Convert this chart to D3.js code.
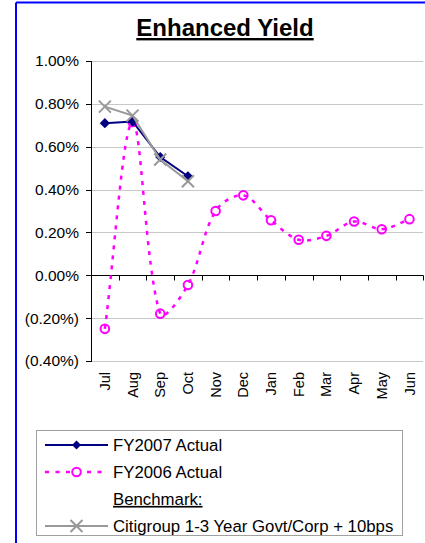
<!DOCTYPE html>
<html lang="en">
<head>
    <meta charset="UTF-8">
    <title>Enhanced Yield</title>
    <script src="https://d3js.org/d3.v7.min.js"></script>
    <style>
        body { margin: 0; background: #fff; }
        svg { display: block; font-family: "Liberation Sans", Arial, sans-serif; }
        .grid line { stroke: #c8c8c8; stroke-width: 1; shape-rendering: crispEdges; }
        .grid path { display: none; }
        .axis path, .axis line { stroke: #000; stroke-width: 1; shape-rendering: crispEdges; }
        .axis text { font-size: 15.5px; fill: #000; }
    </style>
</head>
<body>
    <svg id="chart"></svg>

    <script>
        // data
        const months = ["Jul", "Aug", "Sep", "Oct", "Nov", "Dec", "Jan", "Feb", "Mar", "Apr", "May", "Jun"];
        const fy2007 = [0.0071, 0.00718, 0.00552, 0.00462];
        const fy2006 = [-0.0025, 0.00715, -0.00179, -0.00045, 0.0030, 0.00373, 0.00257, 0.00166, 0.00184, 0.00251, 0.00215, 0.00262];
        const benchmark = [0.00787, 0.00745, 0.0054, 0.00439];
        const yTicks = [-0.004, -0.002, 0, 0.002, 0.004, 0.006, 0.008, 0.01];

        const W = 425, H = 543;
        const plot = { left: 91, right: 423.3, top: 61, bottom: 361 };

        const svg = d3.select("#chart").attr("width", W).attr("height", H);

        // blue frame (only top and left show in the crop)
        svg.append("line").attr("x1", 16).attr("y1", 2.5).attr("x2", W).attr("y2", 2.5)
            .attr("stroke", "#0000ff").attr("stroke-width", 2);
        svg.append("line").attr("x1", 16).attr("y1", 2.5).attr("x2", 16).attr("y2", H)
            .attr("stroke", "#0000ff").attr("stroke-width", 2);

        // title
        svg.append("text")
            .attr("x", 225)
            .attr("y", 36)
            .attr("text-anchor", "middle")
            .style("font-size", "24px")
            .style("font-weight", "bold")
            .style("text-decoration", "underline")
            .text("Enhanced Yield");

        const x = d3.scaleBand().domain(months).range([plot.left, plot.right]);
        const y = d3.scaleLinear().domain([-0.004, 0.01]).range([plot.bottom, plot.top]);
        const cx = m => x(m) + x.bandwidth() / 2;

        const pct = d3.format(".2%");
        const fmt = v => v < 0 ? `(${pct(-v)})` : pct(v);

        // Excel-style smoothing: bezier arms weighted by neighbouring chord lengths
        function smoothPath(pts) {
            const p = d3.path();
            const dist = (a, b) => Math.hypot(b[0] - a[0], b[1] - a[1]);
            p.moveTo(pts[0][0], pts[0][1]);
            for (let i = 0; i < pts.length - 1; i++) {
                const p0 = pts[i - 1] || pts[i], p1 = pts[i], p2 = pts[i + 1], p3 = pts[i + 2] || pts[i + 1];
                const d01 = dist(p0, p1), d12 = dist(p1, p2), d23 = dist(p2, p3);
                const f1 = d12 / (d01 + d12) / 3;
                const f2 = d12 / (d12 + d23) / 3;
                p.bezierCurveTo(
                    p1[0] + (p2[0] - p0[0]) * f1, p1[1] + (p2[1] - p0[1]) * f1,
                    p2[0] - (p3[0] - p1[0]) * f2, p2[1] - (p3[1] - p1[1]) * f2,
                    p2[0], p2[1]);
            }
            return p.toString();
        }

        // gridlines
        svg.append("g")
            .attr("class", "grid")
            .attr("transform", `translate(${plot.left},0)`)
            .call(d3.axisLeft(y).tickValues(yTicks).tickSize(-(plot.right - plot.left)).tickFormat(""));

        // y axis
        const yAxis = svg.append("g")
            .attr("class", "axis")
            .attr("transform", `translate(${plot.left},0)`)
            .call(d3.axisLeft(y).tickValues(yTicks).tickSize(5).tickPadding(7).tickFormat(fmt));
        yAxis.selectAll("text").attr("fill", d => d < 0 ? "#ff0000" : "#000");

        // category axis at zero, ticks on band edges
        const y0 = Math.round(y(0)) + 0.5;
        const edges = months.map(m => x(m)).concat([x.range()[1]]);
        svg.append("line")
            .attr("x1", plot.left).attr("x2", plot.right)
            .attr("y1", y0).attr("y2", y0)
            .attr("stroke", "#000");
        svg.selectAll(".xtick")
            .data(edges)
            .enter().append("line")
            .attr("x1", d => Math.round(d) + 0.5).attr("x2", d => Math.round(d) + 0.5)
            .attr("y1", y0).attr("y2", y0 + 5)
            .attr("stroke", "#000");

        // month labels, low position
        svg.selectAll(".month")
            .data(months)
            .enter().append("text")
            .attr("transform", d => `translate(${cx(d)},${plot.bottom + 11}) rotate(-90)`)
            .attr("text-anchor", "end")
            .attr("dy", "0.35em")
            .style("font-size", "14.5px")
            .text(d => d);

        // FY2006 - smoothed dotted magenta
        const pts06 = fy2006.map((v, i) => [cx(months[i]), y(v)]);
        svg.append("path")
            .attr("d", smoothPath(pts06))
            .attr("fill", "none")
            .attr("stroke", "#ff00ff")
            .attr("stroke-width", 2.5)
            .attr("stroke-dasharray", "4,6");
        svg.selectAll(".c06")
            .data(pts06)
            .enter().append("circle")
            .attr("cx", d => d[0]).attr("cy", d => d[1])
            .attr("r", 4.3)
            .attr("fill", "none")
            .attr("stroke", "#ff00ff")
            .attr("stroke-width", 2);

        // FY2007 - navy with diamonds
        const pts07 = fy2007.map((v, i) => [cx(months[i]), y(v)]);
        svg.append("path")
            .datum(pts07)
            .attr("d", d3.line())
            .attr("fill", "none")
            .attr("stroke", "#000080")
            .attr("stroke-width", 2);
        const diamond = d3.symbol().type(d3.symbolSquare).size(52);
        svg.selectAll(".d07")
            .data(pts07)
            .enter().append("path")
            .attr("d", diamond)
            .attr("transform", d => `translate(${d[0]},${d[1]}) rotate(45)`)
            .attr("fill", "#000080");

        // benchmark - grey with x marks
        const ptsB = benchmark.map((v, i) => [cx(months[i]), y(v)]);
        svg.append("path")
            .datum(ptsB)
            .attr("d", d3.line())
            .attr("fill", "none")
            .attr("stroke", "#999999")
            .attr("stroke-width", 2);
        const cross = d3.symbol().type(d3.symbolX).size(96);
        svg.selectAll(".xb")
            .data(ptsB)
            .enter().append("path")
            .attr("d", cross)
            .attr("transform", d => `translate(${d[0]},${d[1]})`)
            .attr("fill", "none")
            .attr("stroke", "#999999")
            .attr("stroke-width", 2);

        // legend
        const lg = svg.append("g");
        lg.append("rect")
            .attr("x", 36.5).attr("y", 430.5)
            .attr("width", 366).attr("height", 105)
            .attr("fill", "#fff")
            .attr("stroke", "#a0a0a0");

        const rows = [445, 472, 499, 526];
        const sx1 = 45, sx2 = 108, mx = 76.5, tx = 113;

        lg.append("line").attr("x1", sx1).attr("x2", sx2).attr("y1", rows[0]).attr("y2", rows[0])
            .attr("stroke", "#000080").attr("stroke-width", 2);
        lg.append("path").attr("d", d3.symbol().type(d3.symbolSquare).size(40))
            .attr("transform", `translate(${mx},${rows[0]}) rotate(45)`).attr("fill", "#000080");

        lg.append("line").attr("x1", sx1).attr("x2", sx2).attr("y1", rows[1]).attr("y2", rows[1])
            .attr("stroke", "#ff00ff").attr("stroke-width", 2.5).attr("stroke-dasharray", "4,6.5");
        lg.append("circle").attr("cx", mx).attr("cy", rows[1]).attr("r", 4.3)
            .attr("fill", "#fff").attr("stroke", "#ff00ff").attr("stroke-width", 2);

        lg.append("line").attr("x1", sx1).attr("x2", sx2).attr("y1", rows[3]).attr("y2", rows[3])
            .attr("stroke", "#999999").attr("stroke-width", 2);
        lg.append("path").attr("d", cross)
            .attr("transform", `translate(${mx},${rows[3]})`)
            .attr("fill", "none").attr("stroke", "#999999").attr("stroke-width", 2);

        const labels = ["FY2007 Actual", "FY2006 Actual", "Benchmark:", "Citigroup 1-3 Year Govt/Corp + 10bps"];
        lg.selectAll(".lt")
            .data(labels)
            .enter().append("text")
            .attr("x", tx)
            .attr("y", (d, i) => rows[i])
            .attr("dy", "0.35em")
            .style("font-size", "16.8px")
            .style("text-decoration", (d, i) => i === 2 ? "underline" : "none")
            .text(d => d);
    </script>
</body>
</html>
